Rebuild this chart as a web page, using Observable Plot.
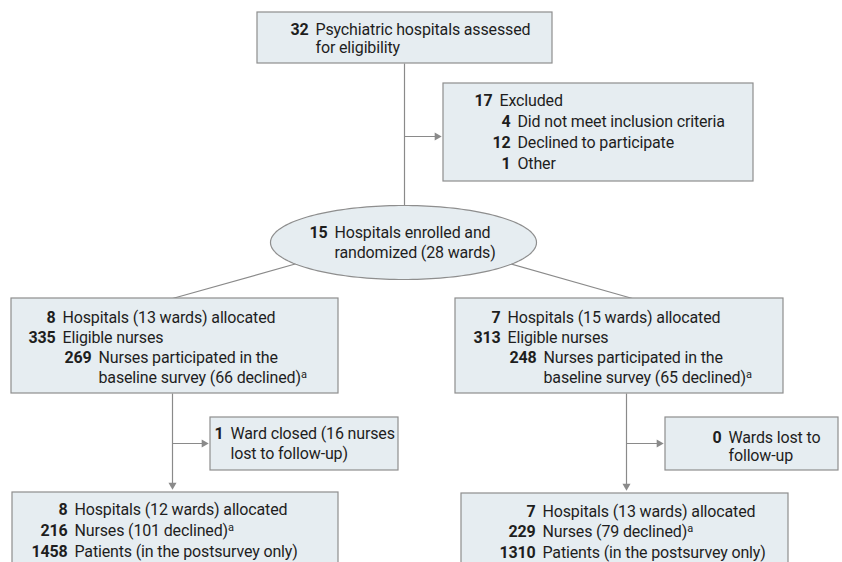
<!DOCTYPE html>
<html><head><meta charset="utf-8">
<script src="https://cdn.jsdelivr.net/npm/d3@7"></script>
<script src="https://cdn.jsdelivr.net/npm/@observablehq/plot@0.6"></script>
<style>
body{margin:0;background:#fff}
#chart{width:842px;height:562px;overflow:hidden}
</style>
</head><body><div id="chart"></div>
<script>
// ---------------- DATA ----------------
const stages = ["assessed","excluded","enrolled","allocatedA","allocatedB","lostA","lostB","analyzedA","analyzedB"];
// one entry per text row of the flow diagram
const entryStage = ["assessed","assessed",
  "excluded","excluded","excluded","excluded",
  "enrolled","enrolled",
  "allocatedA","allocatedA","allocatedA","allocatedA",
  "allocatedB","allocatedB","allocatedB","allocatedB",
  "lostA","lostA",
  "lostB","lostB",
  "analyzedA","analyzedA","analyzedA",
  "analyzedB","analyzedB","analyzedB"];
const entryCount = ["32","",
  "17","4","12","1",
  "15","",
  "8","335","269","",
  "7","313","248","",
  "1","",
  "0","",
  "8","216","1458",
  "7","229","1310"];
const entryText = ["Psychiatric hospitals assessed","for eligibility",
  "Excluded","Did not meet inclusion criteria","Declined to participate","Other",
  "Hospitals enrolled and","randomized (28 wards)",
  "Hospitals (13 wards) allocated","Eligible nurses","Nurses participated in the","baseline survey (66 declined)^a",
  "Hospitals (15 wards) allocated","Eligible nurses","Nurses participated in the","baseline survey (65 declined)^a",
  "Ward closed (16 nurses","lost to follow-up)",
  "Wards lost to","follow-up",
  "Hospitals (12 wards) allocated","Nurses (101 declined)^a","Patients (in the postsurvey only)",
  "Hospitals (13 wards) allocated","Nurses (79 declined)^a","Patients (in the postsurvey only)"];
const entryLevel = [0,0, 0,1,1,1, 0,0, 0,0,1,1, 0,0,1,1, 0,0, 0,0, 0,0,0, 0,0,0];
// flow connections (from stage -> to stage)
const flowFrom = ["assessed","assessed","enrolled","enrolled","allocatedA","allocatedA","allocatedB","allocatedB"];
const flowTo   = ["enrolled","excluded","allocatedA","allocatedB","analyzedA","lostA","analyzedB","lostB"];

// ---------------- LAYOUT (pixels) ----------------
const layout = {
  assessed:   {shape:"rect", x1:257, x2:552, y1:12,  y2:63,  num:[308],     y0:29,  lh:18},
  excluded:   {shape:"rect", x1:443, x2:753, y1:83,  y2:181, num:[492,510], y0:100, lh:21},
  enrolled:   {shape:"ellipse", cx:403, cy:242, rx:133, ry:37, num:[327], y0:232, lh:20},
  allocatedA: {shape:"rect", x1:11,  x2:338, y1:298, y2:393, num:[55,91],   y0:317, lh:20},
  allocatedB: {shape:"rect", x1:455, x2:783, y1:298, y2:393, num:[500,536], y0:317, lh:20},
  lostA:      {shape:"rect", x1:210, x2:398, y1:417, y2:470, num:[223],     y0:433, lh:20},
  lostB:      {shape:"rect", x1:665, x2:838, y1:417, y2:470, num:[721],     y0:437, lh:18},
  analyzedA:  {shape:"rect", x1:12,  x2:338, y1:492, y2:580, num:[67],      y0:509, lh:21},
  analyzedB:  {shape:"rect", x1:461, x2:788, y1:493, y2:580, num:[535],     y0:511, lh:20.5}
};
// connector geometry for each flow: path points, arrowhead or not
const connector = {
  "assessed>enrolled":   {pts:[[404,63],[404,206]], arrow:false},
  "assessed>excluded":   {pts:[[404,136],[443,136]], arrow:true},
  "enrolled>allocatedA": {pts:[[300,262],[172,298]], arrow:false},
  "enrolled>allocatedB": {pts:[[505,262],[632,298]], arrow:false},
  "allocatedA>analyzedA":{pts:[[172,393],[172,491]], arrow:true},
  "allocatedA>lostA":    {pts:[[172,443],[210,443]], arrow:true},
  "allocatedB>analyzedB":{pts:[[626,393],[626,492]], arrow:true},
  "allocatedB>lostB":    {pts:[[626,443],[665,443]], arrow:true}
};

const FILL = "#e6edf1", STROKE = "#8e8e8e", LINE = "#8a8a8a", INK = "#1e1e1e";
const FONT = "Roboto, 'Noto Sans', sans-serif";
const FS = 16, GAP = 7;

// build tables
const rows = entryText.map((t, i) => {
  const L = layout[entryStage[i]];
  const idx = entryStage.slice(0, i).filter(s => s === entryStage[i]).length;
  const numEnd = L.num[Math.min(entryLevel[i], L.num.length - 1)];
  return {count: entryCount[i], text: t, x: numEnd, tx: numEnd + GAP, y: L.y0 + idx * L.lh};
});
const boxes = stages.filter(s => layout[s].shape === "rect").map(s => ({stage: s, ...layout[s]}));
const ell = layout.enrolled;
const ellipsePts = d3.range(0, 181).map(k => {
  const a = k / 180 * 2 * Math.PI;
  return {x: ell.cx + ell.rx * Math.cos(a), y: ell.cy + ell.ry * Math.sin(a)};
});
const links = [], heads = [];
flowFrom.forEach((f, i) => {
  const c = connector[f + ">" + flowTo[i]];
  const [p0, p1] = c.pts;
  const dx = p1[0] - p0[0], dy = p1[1] - p0[1], len = Math.hypot(dx, dy);
  const ux = dx / len, uy = dy / len;
  const end = c.arrow ? [p1[0] - ux * 2, p1[1] - uy * 2] : p1;
  links.push({x1: p0[0], y1: p0[1], x2: c.arrow ? end[0] - ux * 4 : end[0], y2: c.arrow ? end[1] - uy * 4 : end[1]});
  if (c.arrow) {
    const size = 26, yy = Math.sqrt(size / (Math.sqrt(3) * 3));
    heads.push({x: end[0] - ux * 2 * yy, y: end[1] - uy * 2 * yy, rot: Math.atan2(uy, ux) * 180 / Math.PI + 90, r: Math.sqrt(size / Math.PI)});
  }
});

const plot = Plot.plot({
  width: 842, height: 562,
  margin: 0,
  x: {domain: [0, 842], range: [0, 842], axis: null},
  y: {domain: [0, 562], range: [0, 562], axis: null},
  style: {background: "#fff", letterSpacing: "-0.15px"},
  marks: [
    Plot.link(links, {x1: "x1", y1: "y1", x2: "x2", y2: "y2", stroke: LINE, strokeWidth: 1.2}),
    Plot.dot(heads, {x: "x", y: "y", symbol: "triangle", r: "r", rotate: "rot", fill: LINE, stroke: "none"}),
    Plot.line(ellipsePts, {x: "x", y: "y", curve: "linear-closed", fill: FILL, stroke: STROKE, strokeWidth: 1.2}),
    Plot.rect(boxes, {x1: "x1", x2: "x2", y1: "y1", y2: "y2", fill: FILL, stroke: STROKE, strokeWidth: 1.2}),
    Plot.text(rows, {x: "x", y: "y", text: "count", textAnchor: "end", fontWeight: "bold", fontSize: FS, fontFamily: FONT, fill: INK}),
    Plot.text(rows, {x: "tx", y: "y", text: "text", textAnchor: "start", fontSize: FS, fontFamily: FONT, fill: INK})
  ]
});
document.getElementById("chart").appendChild(plot);
// superscript footnote markers
plot.querySelectorAll("text").forEach(t => {
  if (t.textContent.includes("^a")) {
    t.textContent = t.textContent.replace("^a", "");
    const s = document.createElementNS("http://www.w3.org/2000/svg", "tspan");
    s.setAttribute("dy", "-5");
    s.setAttribute("font-size", "11");
    s.textContent = "a";
    t.appendChild(s);
  }
});
</script>
</body></html>
